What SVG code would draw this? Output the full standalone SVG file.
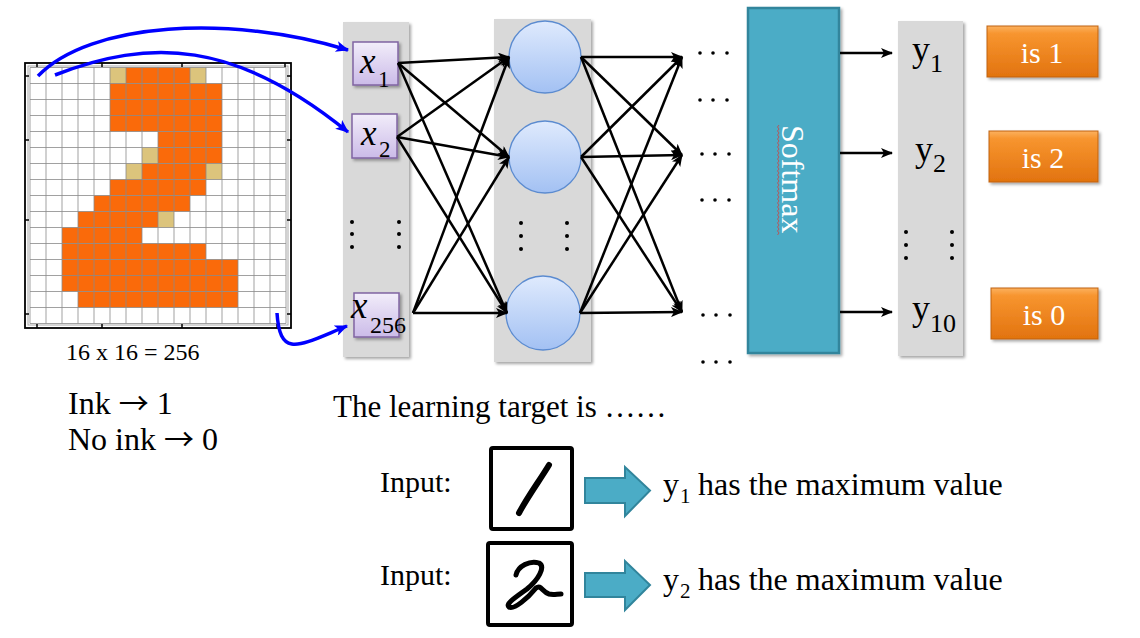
<svg xmlns="http://www.w3.org/2000/svg" width="1140" height="638" viewBox="0 0 1140 638">
<defs>
<style>
.serif{font-family:"Liberation Serif","Times New Roman",serif;fill:#000}
.arr{font-family:"Noto Sans CJK SC","DejaVu Serif",serif}
.col{fill:#d9d9d9}
.xbox{fill:url(#gPurple);stroke:#8064a2;stroke-width:1.5}
.node{fill:url(#gBlue);stroke:#5b8bd0;stroke-width:1.3}
.conn{stroke:#000;stroke-width:2.5;fill:none;marker-end:url(#ah)}
.blue{stroke:#0000ff;stroke-width:3.5;fill:none;marker-end:url(#ahb)}
.res{fill:url(#gOrange);stroke:#c0620f;stroke-width:1}
.dot{fill:#000}
.tan{fill:#dcc47c}
.org{fill:#fa6a0a}
.blk{fill:#4bacc6;stroke:#31859c;stroke-width:2}
</style>
<linearGradient id="gPurple" x1="0" y1="0" x2="0" y2="1"><stop offset="0" stop-color="#f2edfa"/><stop offset="1" stop-color="#cbbbe8"/></linearGradient>
<linearGradient id="gBlue" x1="0" y1="0" x2="0" y2="1"><stop offset="0" stop-color="#dfeafd"/><stop offset="1" stop-color="#a3c1f3"/></linearGradient>
<linearGradient id="gOrange" x1="0" y1="0" x2="0" y2="1"><stop offset="0" stop-color="#fcb15f"/><stop offset="0.15" stop-color="#f7952f"/><stop offset="1" stop-color="#e2730f"/></linearGradient>
<filter id="sh" x="-10%" y="-10%" width="130%" height="130%"><feDropShadow dx="2" dy="2" stdDeviation="1.5" flood-color="#000" flood-opacity="0.35"/></filter>
<marker id="ah" viewBox="0 0 12 10" refX="11" refY="5" markerWidth="13" markerHeight="10" markerUnits="userSpaceOnUse" orient="auto"><path d="M0,0 L12,5 L0,10 L3,5 z" fill="#000"/></marker>
<marker id="ahb" viewBox="0 0 12 10" refX="11" refY="5" markerWidth="14" markerHeight="11" markerUnits="userSpaceOnUse" orient="auto"><path d="M0,0 L12,5 L0,10 L3,5 z" fill="#0000ff"/></marker>
</defs>
<rect width="1140" height="638" fill="#fff"/>

<g id="pixel-grid">
<rect x="25" y="63" width="266" height="265" fill="#fff" stroke="#000" stroke-width="1.8"/>
<rect x="28" y="66" width="260" height="259" fill="none" stroke="#aaa" stroke-width="1"/>
<rect class="tan" x="110" y="67.5" width="16" height="16"/>
<rect class="org" x="126" y="67.5" width="64" height="16"/>
<rect class="tan" x="190" y="67.5" width="16" height="16"/>
<rect class="org" x="110" y="83.5" width="112" height="48"/>
<rect class="org" x="158" y="131.5" width="64" height="16"/>
<rect class="tan" x="142" y="147.5" width="16" height="16"/>
<rect class="org" x="158" y="147.5" width="64" height="16"/>
<rect class="tan" x="126" y="163.5" width="16" height="16"/>
<rect class="org" x="142" y="163.5" width="64" height="16"/>
<rect class="tan" x="206" y="163.5" width="16" height="16"/>
<rect class="org" x="110" y="179.5" width="96" height="16"/>
<rect class="org" x="94" y="195.5" width="96" height="16"/>
<rect class="org" x="78" y="211.5" width="80" height="16"/>
<rect class="tan" x="158" y="211.5" width="16" height="16"/>
<rect class="org" x="62" y="227.5" width="80" height="16"/>
<rect class="org" x="62" y="243.5" width="144" height="16"/>
<rect class="org" x="62" y="259.5" width="176" height="32"/>
<rect class="org" x="78" y="291.5" width="160" height="16"/>
<path d="M30,67.5V323.5M46,67.5V323.5M62,67.5V323.5M78,67.5V323.5M94,67.5V323.5M110,67.5V323.5M126,67.5V323.5M142,67.5V323.5M158,67.5V323.5M174,67.5V323.5M190,67.5V323.5M206,67.5V323.5M222,67.5V323.5M238,67.5V323.5M254,67.5V323.5M270,67.5V323.5M286,67.5V323.5M30,67.5H286M30,83.5H286M30,99.5H286M30,115.5H286M30,131.5H286M30,147.5H286M30,163.5H286M30,179.5H286M30,195.5H286M30,211.5H286M30,227.5H286M30,243.5H286M30,259.5H286M30,275.5H286M30,291.5H286M30,307.5H286M30,323.5H286" stroke="#8a8a8a" stroke-width="1" fill="none" opacity="0.8"/>
<path d="M25,76h4M25,140h4M25,220h4M25,314h4M291,76h-4M291,140h-4M291,220h-4M291,314h-4M37,63v4M102,63v4M182,63v4M285,63v4M37,328v-4M102,328v-4M182,328v-4M277,328v-4" stroke="#000" stroke-width="1.5"/>
<text class="serif" x="66" y="360" font-size="24">16 x 16 = 256</text>
</g>

<g id="ink-legend">
<text class="serif" x="68" y="414" font-size="32">Ink <tspan class="arr" font-size="30">→</tspan> 1</text>
<text class="serif" x="68" y="450" font-size="32">No ink <tspan class="arr" font-size="30">→</tspan> 0</text>
</g>

<g id="input-layer">
<rect class="col" x="343" y="22" width="66" height="335" filter="url(#sh)"/>
<g id="x1"><rect class="xbox" x="353" y="42" width="45" height="43" filter="url(#sh)"/>
<text class="serif" x="360" y="73" font-size="35" font-style="italic">x</text><text class="serif" x="378" y="87" font-size="23">1</text></g>
<g id="x2"><rect class="xbox" x="352" y="114" width="45" height="44" filter="url(#sh)"/>
<text class="serif" x="361" y="145" font-size="35" font-style="italic">x</text><text class="serif" x="379" y="157" font-size="23">2</text></g>
<g id="x256"><rect class="xbox" x="354" y="293" width="45" height="44" filter="url(#sh)"/>
<text class="serif" x="351" y="318" font-size="37" font-style="italic">x</text><text class="serif" x="370" y="333" font-size="24">256</text></g>
<circle class="dot" cx="352" cy="222" r="2"/><circle class="dot" cx="352" cy="234" r="2"/><circle class="dot" cx="352" cy="247" r="2"/>
<circle class="dot" cx="399" cy="222" r="2"/><circle class="dot" cx="399" cy="234" r="2"/><circle class="dot" cx="399" cy="247" r="2"/>
</g>

<g id="hidden-layer">
<rect class="col" x="494" y="19" width="97" height="343" filter="url(#sh)"/>
<circle id="h1" class="node" cx="545" cy="57" r="36"/>
<circle id="h2" class="node" cx="545" cy="157" r="36"/>
<circle id="h3" class="node" cx="543" cy="313" r="37"/>
<circle class="dot" cx="521" cy="223" r="2"/><circle class="dot" cx="521" cy="236" r="2"/><circle class="dot" cx="521" cy="249" r="2"/>
<circle class="dot" cx="567" cy="223" r="2"/><circle class="dot" cx="567" cy="236" r="2"/><circle class="dot" cx="567" cy="249" r="2"/>
</g>

<g id="more-layers">
<g fill="#000">
<circle cx="700" cy="53" r="1.8"/><circle cx="713" cy="53" r="1.8"/><circle cx="727" cy="53" r="1.8"/>
<circle cx="700" cy="100" r="1.8"/><circle cx="713" cy="100" r="1.8"/><circle cx="727" cy="100" r="1.8"/>
<circle cx="702" cy="154" r="1.8"/><circle cx="715" cy="154" r="1.8"/><circle cx="729" cy="154" r="1.8"/>
<circle cx="702" cy="200" r="1.8"/><circle cx="715" cy="200" r="1.8"/><circle cx="729" cy="200" r="1.8"/>
<circle cx="703" cy="315" r="1.8"/><circle cx="716" cy="315" r="1.8"/><circle cx="730" cy="315" r="1.8"/>
<circle cx="703" cy="362" r="1.8"/><circle cx="716" cy="362" r="1.8"/><circle cx="730" cy="362" r="1.8"/>
</g>
</g>

<g id="softmax">
<rect x="748" y="8" width="91" height="345" fill="#4bacc6" stroke="#31859c" stroke-width="2.5" filter="url(#sh)"/>
<path d="M779,125 l-1.5,2 l1.5,2 l-1.5,2 l1.5,2 l-1.5,2 l1.5,2 l-1.5,2 l1.5,2 l-1.5,2 l1.5,2 l-1.5,2 l1.5,2 l-1.5,2 l1.5,2 l-1.5,2 l1.5,2 l-1.5,2 l1.5,2 l-1.5,2 l1.5,2 l-1.5,2 l1.5,2 l-1.5,2 l1.5,2 l-1.5,2 l1.5,2 l-1.5,2 l1.5,2 l-1.5,2 l1.5,2 l-1.5,2 l1.5,2 l-1.5,2 l1.5,2 l-1.5,2 l1.5,2 l-1.5,2 l1.5,2 l-1.5,2 l1.5,2 l-1.5,2 l1.5,2 l-1.5,2 l1.5,2 l-1.5,2 l1.5,2 l-1.5,2 l1.5,2 l-1.5,2 l1.5,2 l-1.5,2 l1.5,2 l-1.5,2 l1.5,2 l-1.5,2" fill="none" stroke="#d04040" stroke-width="0.8"/>
<text class="serif" transform="translate(782,125) rotate(90)" font-size="32" style="fill:#fff">Softmax</text>
</g>

<g id="output-layer">
<rect class="col" x="898" y="21" width="65" height="335" filter="url(#sh)"/>
<g id="y1"><text class="serif" x="912" y="61" font-size="36">y</text><text class="serif" x="930" y="72" font-size="26">1</text></g>
<g id="y2"><text class="serif" x="915" y="161" font-size="36">y</text><text class="serif" x="933" y="172" font-size="26">2</text></g>
<g id="y10"><text class="serif" x="912" y="320" font-size="36">y</text><text class="serif" x="930" y="332" font-size="26">10</text></g>
<circle class="dot" cx="906" cy="232" r="2"/><circle class="dot" cx="906" cy="245" r="2"/><circle class="dot" cx="906" cy="258" r="2"/>
<circle class="dot" cx="952" cy="232" r="2"/><circle class="dot" cx="952" cy="245" r="2"/><circle class="dot" cx="952" cy="258" r="2"/>
</g>

<g id="result-is1"><rect class="res" x="987" y="26" width="111" height="51" filter="url(#sh)"/><text class="serif" x="1042" y="63" font-size="30" text-anchor="middle" style="fill:#fff">is 1</text></g>
<g id="result-is2"><rect class="res" x="989" y="131" width="109" height="51" filter="url(#sh)"/><text class="serif" x="1043" y="168" font-size="30" text-anchor="middle" style="fill:#fff">is 2</text></g>
<g id="result-is0"><rect class="res" x="991" y="288" width="107" height="51" filter="url(#sh)"/><text class="serif" x="1044" y="325" font-size="30" text-anchor="middle" style="fill:#fff">is 0</text></g>

<g id="connectors">
<path class="blue" d="M38,76 C90,22 230,14 348,50"/>
<path class="blue" d="M55,75 C150,38 235,40 348,132"/>
<path class="blue" d="M277,313 C280,360 300,345 347,326"/>
<line class="conn" x1="398" y1="63" x2="509" y2="57"/>
<line class="conn" x1="398" y1="63" x2="509" y2="157"/>
<line class="conn" x1="398" y1="63" x2="507" y2="313"/>
<line class="conn" x1="397" y1="137" x2="509" y2="57"/>
<line class="conn" x1="397" y1="137" x2="509" y2="157"/>
<line class="conn" x1="397" y1="137" x2="507" y2="313"/>
<line class="conn" x1="413" y1="313" x2="509" y2="57"/>
<line class="conn" x1="413" y1="313" x2="509" y2="157"/>
<line class="conn" x1="413" y1="313" x2="507" y2="313"/>
<line class="conn" x1="581" y1="57" x2="682" y2="57"/>
<line class="conn" x1="581" y1="57" x2="682" y2="155"/>
<line class="conn" x1="581" y1="57" x2="682" y2="312"/>
<line class="conn" x1="581" y1="157" x2="682" y2="57"/>
<line class="conn" x1="581" y1="157" x2="682" y2="155"/>
<line class="conn" x1="581" y1="157" x2="682" y2="312"/>
<line class="conn" x1="580" y1="313" x2="682" y2="57"/>
<line class="conn" x1="580" y1="313" x2="682" y2="155"/>
<line class="conn" x1="580" y1="313" x2="682" y2="312"/>
<line class="conn" x1="840" y1="53" x2="892" y2="53"/>
<line class="conn" x1="840" y1="153" x2="892" y2="153"/>
<line class="conn" x1="840" y1="312" x2="892" y2="312"/>
</g>

<g id="learning-target">
<text class="serif" x="333" y="417" font-size="31">The learning target is ……</text>
</g>

<g id="example-1">
<text class="serif" x="380" y="492" font-size="30">Input:</text>
<rect x="491" y="448" width="81" height="81" rx="2" fill="#fff" stroke="#000" stroke-width="4"/>
<path d="M549,465 C540,480 528,496 519,513" stroke="#000" stroke-width="6" stroke-linecap="round" fill="none"/>
<polygon class="blk" points="585,478 625,478 625,467 650,490.5 625,516 625,503 585,503"/>
<text class="serif" x="663" y="495" font-size="32">y</text><text class="serif" x="680" y="503" font-size="21">1</text>
<text class="serif" x="698" y="495" font-size="32">has the maximum value</text>
</g>

<g id="example-2">
<text class="serif" x="380" y="585" font-size="30">Input:</text>
<rect x="488" y="543" width="84" height="82" rx="2" fill="#fff" stroke="#000" stroke-width="4"/>
<path d="M516,575 C518,566 530,560 539,563 C546,567 538,580 527,589 C516,597 505,604 509,607 C514,610 528,598 536,588 C541,584 542,592 549,594 C553,595 557,594 561,594" stroke="#000" stroke-width="5" stroke-linecap="round" stroke-linejoin="round" fill="none"/>
<polygon class="blk" points="585,573 625,573 625,561 650,585 625,610 625,597 585,597"/>
<text class="serif" x="663" y="590" font-size="32">y</text><text class="serif" x="680" y="598" font-size="21">2</text>
<text class="serif" x="698" y="590" font-size="32">has the maximum value</text>
</g>
</svg>
